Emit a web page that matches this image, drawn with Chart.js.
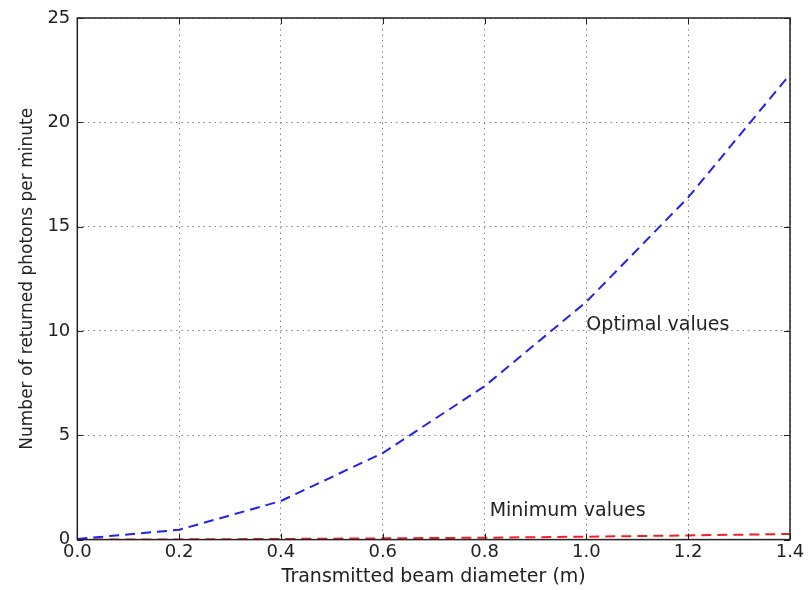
<!DOCTYPE html>
<html>
<head>
<meta charset="utf-8">
<script src="https://cdn.jsdelivr.net/npm/chart.js@4.4.1/dist/chart.umd.min.js"></script>
<style>
  html, body { margin: 0; padding: 0; background: #fff; }
  #wrap { width: 812px; height: 590px; }
</style>
</head>
<body>
<div id="wrap"><canvas id="photonChart"></canvas></div>
<script>
// ---------- DATA ----------
const diameters = [0, 0.2, 0.4, 0.6, 0.8, 1.0, 1.2, 1.4];
const optimalValues = [0.03, 0.47, 1.85, 4.15, 7.35, 11.4, 16.4, 22.3];
const minimumValues = [0, 0.01, 0.03, 0.06, 0.09, 0.14, 0.2, 0.27];
const xTicks = [0, 0.2, 0.4, 0.6, 0.8, 1.0, 1.2, 1.4];
const yTicks = [0, 5, 10, 15, 20, 25];
const notes = [
  { text: "Optimal values", x: 1.0, y: 10.3 },
  { text: "Minimum values", x: 0.81, y: 1.35 }
];

const FONT = "'DejaVu Sans', sans-serif";
const INK = "#222";

// ---------- FRAME, INWARD TICKS, LABELS ----------
const framePlugin = {
  id: "frame",
  afterDatasetsDraw(chart) {
    const { ctx, chartArea: a, scales } = chart;
    ctx.save();
    ctx.strokeStyle = INK;
    ctx.lineWidth = 1;
    xTicks.forEach(v => {
      const px = Math.round(scales.x.getPixelForValue(v)) + 0.5;
      ctx.beginPath();
      ctx.moveTo(px, a.bottom); ctx.lineTo(px, a.bottom - 6);
      ctx.moveTo(px, a.top); ctx.lineTo(px, a.top + 6);
      ctx.stroke();
    });
    yTicks.forEach(v => {
      const py = Math.round(scales.y.getPixelForValue(v)) + 0.5;
      ctx.beginPath();
      ctx.moveTo(a.left, py); ctx.lineTo(a.left + 6, py);
      ctx.moveTo(a.right, py); ctx.lineTo(a.right - 6, py);
      ctx.stroke();
    });
    ctx.lineWidth = 1.5;
    ctx.strokeRect(a.left, a.top, a.right - a.left, a.bottom - a.top);

    ctx.fillStyle = INK;
    ctx.font = "19px " + FONT;
    ctx.textBaseline = "middle";
    ctx.textAlign = "left";
    notes.forEach(n => {
      ctx.fillText(n.text, scales.x.getPixelForValue(n.x), scales.y.getPixelForValue(n.y));
    });
    ctx.restore();
  }
};

// ---------- CHART ----------
new Chart(document.getElementById("photonChart"), {
  type: "line",
  data: {
    datasets: [
      {
        label: "Optimal values",
        data: diameters.map((d, i) => ({ x: d, y: optimalValues[i] })),
        borderColor: "#2222ee",
        borderWidth: 2,
        borderDash: [10, 6],
        pointRadius: 0,
        tension: 0,
        fill: false
      },
      {
        label: "Minimum values",
        data: diameters.map((d, i) => ({ x: d, y: minimumValues[i] })),
        borderColor: "#ee2222",
        borderWidth: 2,
        borderDash: [10, 6],
        pointRadius: 0,
        tension: 0,
        fill: false
      }
    ]
  },
  options: {
    responsive: true,
    maintainAspectRatio: false,
    animation: false,
    layout: { padding: { top: 18, right: 22, left: 17, bottom: 2 } },
    plugins: {
      legend: { display: false },
      tooltip: { enabled: false }
    },
    scales: {
      x: {
        type: "linear",
        min: 0,
        max: 1.4,
        afterBuildTicks: s => { s.ticks = xTicks.map(v => ({ value: v })); },
        ticks: {
          color: INK,
          font: { family: FONT, size: 18 },
          padding: 2,
          maxRotation: 0,
          callback: v => v.toFixed(1)
        },
        grid: { color: "#888", lineWidth: 1, drawTicks: false },
        border: { display: false, dash: [1.5, 4] },
        title: {
          display: true,
          text: "Transmitted beam diameter (m)",
          color: INK,
          font: { family: FONT, size: 19 },
          padding: { top: 0, bottom: 0 }
        }
      },
      y: {
        min: 0,
        max: 25,
        afterBuildTicks: s => { s.ticks = yTicks.map(v => ({ value: v })); },
        ticks: {
          color: INK,
          font: { family: FONT, size: 18 },
          padding: 7
        },
        grid: { color: "#888", lineWidth: 1, drawTicks: false },
        border: { display: false, dash: [1.5, 4] },
        title: {
          display: true,
          text: "Number of returned photons per minute",
          color: INK,
          font: { family: FONT, size: 17 },
          padding: { top: 0, bottom: 3 }
        }
      }
    }
  },
  plugins: [framePlugin]
});
</script>
</body>
</html>
